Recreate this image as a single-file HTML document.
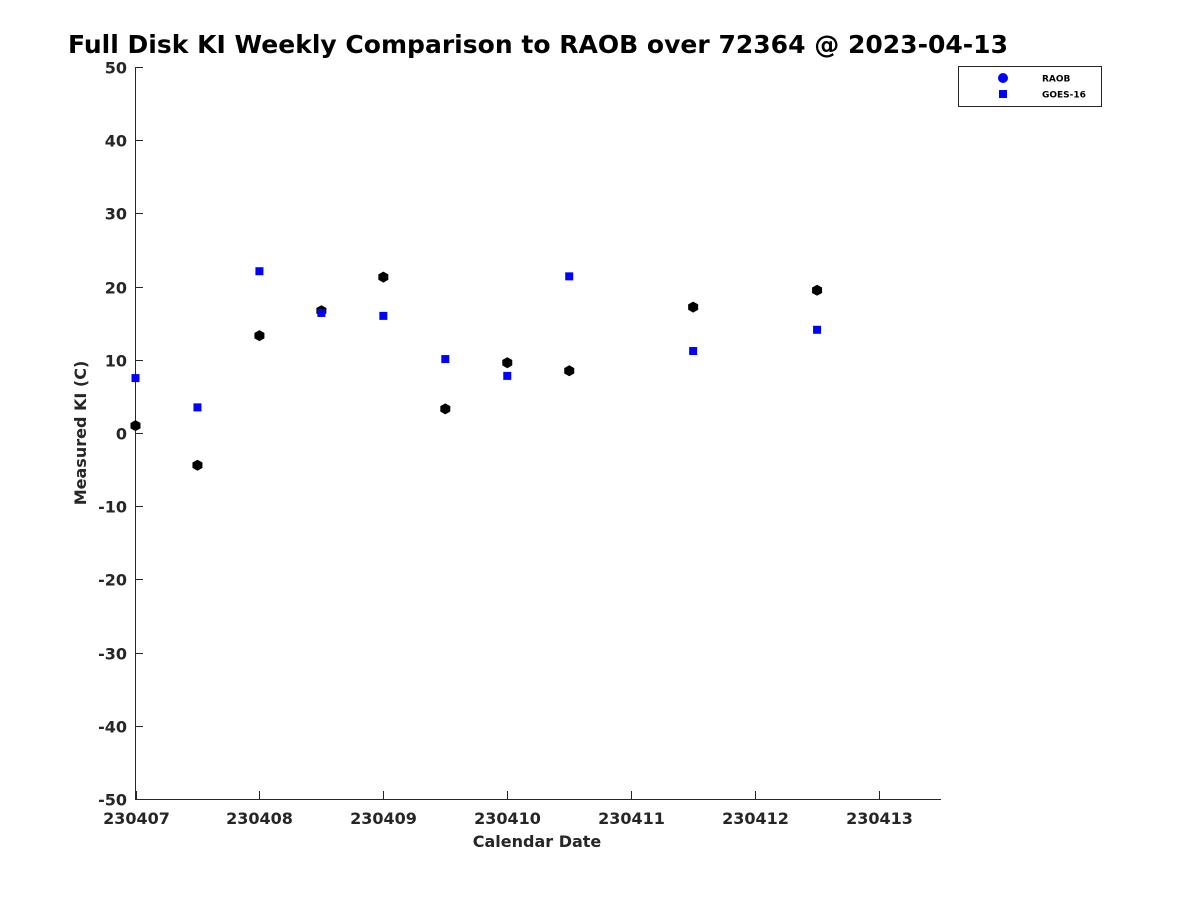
<!DOCTYPE html>
<html><head><meta charset="utf-8"><style>
body{margin:0;background:#fff;font-family:"Liberation Sans","DejaVu Sans",sans-serif;}
svg text{font-family:"DejaVu Sans","Liberation Sans",sans-serif;}
</style></head><body>
<svg id="c" width="1200" height="900" xmlns="http://www.w3.org/2000/svg">
<rect width="1200" height="900" fill="#fff"/>
<text x="68" y="53" font-size="25" font-weight="bold" fill="#000" textLength="940">Full Disk KI Weekly Comparison to RAOB over 72364 @ 2023-04-13</text>
<text x="537" y="847" font-size="16" font-weight="bold" fill="#262626" text-anchor="middle">Calendar Date</text>
<text transform="translate(86,433) rotate(-90)" font-size="16" font-weight="bold" fill="#262626" text-anchor="middle">Measured KI (C)</text>
<g id="axes"></g>
<g id="marks"></g>
<g>
<rect x="958.5" y="66.5" width="143" height="40" fill="#fff" stroke="#262626" stroke-width="1"/>
<circle cx="1003" cy="78" r="5" fill="#0000ff"/>
<text x="1042" y="81.5" font-size="9" font-weight="bold" fill="#000">RAOB</text>
<rect x="999" y="90" width="8" height="8" fill="#0000ff"/>
<text x="1042" y="97.5" font-size="9" font-weight="bold" fill="#000">GOES-16</text>
</g>
</svg>
<script>
const xTickLabels=["230407","230408","230409","230410","230411","230412","230413"];
const yTicks=[50,40,30,20,10,0,-10,-20,-30,-40,-50];
const raobX=[0,0.5,1,1.5,2,2.5,3,3.5,4.5,5.5];
const raobY=[1.0,-4.4,13.3,16.7,21.3,3.3,9.6,8.5,17.2,19.5];
const goesX=[0,0.5,1,1.5,2,2.5,3,3.5,4.5,5.5];
const goesY=[7.5,3.5,22.1,16.4,16.0,10.1,7.8,21.4,11.2,14.1];
const L=135.5,R=941,T=67,B=799,XMAX=6.5;
const sx=d=>L+d/XMAX*(R-L);
const sy=v=>B-(v+50)/100*(B-T);
const NS="http://www.w3.org/2000/svg";
function mk(tag,attrs,parent){const e=document.createElementNS(NS,tag);for(const k in attrs)e.setAttribute(k,attrs[k]);parent.appendChild(e);return e;}
const ax=document.getElementById('axes'),mg=document.getElementById('marks');
let l=mk('line',{x1:135.5,y1:T,x2:135.5,y2:B+0.5,stroke:'#262626'},ax);


l=mk('line',{x1:135,y1:B+0.5,x2:941,y2:B+0.5,stroke:'#262626'},ax);


yTicks.forEach(v=>{const y=Math.round(sy(v))+0.5;
mk('line',{x1:135,y1:y,x2:143,y2:y,stroke:'#262626'},ax);
const t=mk('text',{x:127,y:y+6,'font-size':16,'font-weight':'bold',fill:'#262626','text-anchor':'end'},ax);t.textContent=v;

});
xTickLabels.forEach((s,i)=>{const x=Math.round(sx(i))+0.5;
mk('line',{x1:x,y1:B,x2:x,y2:B-8,stroke:'#262626'},ax);
const t=mk('text',{x:x,y:B+25,'font-size':16,'font-weight':'bold',fill:'#262626','text-anchor':'middle'},ax);t.textContent=s;

});
raobX.forEach((d,i)=>{const x=sx(d),y=sy(raobY[i]);
const p=mk('polygon',{points:`${x},${y-5.5} ${x+5},${y-2.7} ${x+5},${y+2.7} ${x},${y+5.5} ${x-5},${y+2.7} ${x-5},${y-2.7}`,fill:'#000'},mg);

});
goesX.forEach((d,i)=>{const x=sx(d),y=sy(goesY[i]);
const r=mk('rect',{x:x-4,y:y-4,width:8,height:8,fill:'#0000ff'},mg);

});
</script>
</body></html>
